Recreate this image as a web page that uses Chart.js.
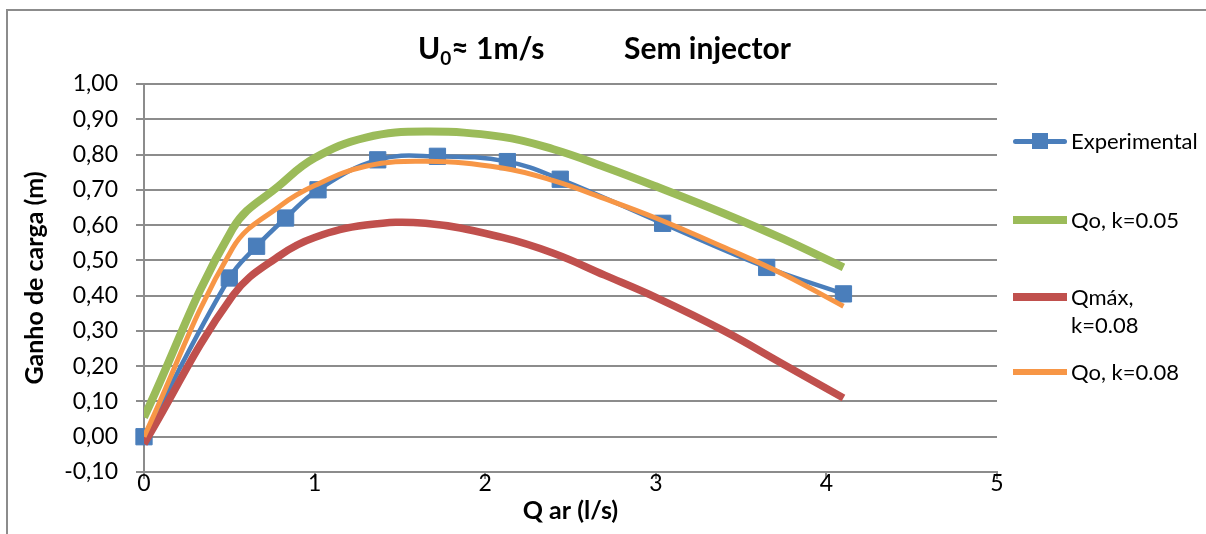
<!DOCTYPE html>
<html>
<head>
<meta charset="utf-8">
<script src="https://cdn.jsdelivr.net/npm/chart.js@4.4.0/dist/chart.umd.min.js"></script>
<style>
  html, body { margin: 0; padding: 0; background: #fff; }
  #wrap { position: relative; width: 1206px; height: 534px; overflow: hidden; background: #fff; }
  #frame { position: absolute; left: 6px; top: 9px; width: 1400px; height: 800px;
           border-left: 2px solid #8c8c8c; border-top: 2px solid #8c8c8c; }
  canvas { position: absolute; left: 0; top: 0; }
  .leg-text { position: absolute; font-family: Lato, sans-serif; font-size: 22px; line-height: 28px; color: #000; white-space: nowrap; }
  .leg-line { position: absolute; }
  .leg-mark { position: absolute; }
</style>
</head>
<body>
<div id="wrap">
  <div id="frame"></div>
  <canvas id="c" width="1206" height="534"></canvas>
  <div id="legend"></div>
</div>
<script>
// Measured head gain vs. air flow rate
const qExp = [0, 0.50, 0.66, 0.83, 1.02, 1.37, 1.72, 2.13, 2.44, 3.04, 3.65, 4.10];
const hExp = [0.00, 0.45, 0.54, 0.62, 0.70, 0.785, 0.795, 0.78, 0.73, 0.605, 0.48, 0.405];

// Model curves
const qModel = [0, 0.52, 0.80, 1.00, 1.30, 1.65, 2.10, 2.40, 2.70, 3.00, 3.40, 3.75, 4.10];
const hQo005 = [0.055, 0.59, 0.715, 0.79, 0.848, 0.865, 0.85, 0.815, 0.765, 0.71, 0.633, 0.56, 0.48];
const hQmax008 = [-0.02, 0.40, 0.515, 0.565, 0.60, 0.605, 0.565, 0.52, 0.458, 0.395, 0.30, 0.205, 0.11];
const hQo008 = [0.00, 0.535, 0.655, 0.712, 0.767, 0.781, 0.762, 0.726, 0.675, 0.62, 0.537, 0.46, 0.37];

const seriesNames = ['Experimental', 'Qo, k=0.05', 'Qmáx,\nk=0.08', 'Qo, k=0.08'];
const seriesColors = ['#4A7EBB', '#9BBB59', '#C0504D', '#F79646'];

const yTicks = [-0.1, 0, 0.1, 0.2, 0.3, 0.4, 0.5, 0.6, 0.7, 0.8, 0.9, 1.0];
const xTicks = [0, 1, 2, 3, 4, 5];

const FONT = 'Lato';
const GRID = '#8c8c8c';

const pts = (xs, ys) => xs.map((x, i) => ({ x: x, y: ys[i] }));

const titlePlugin = {
  id: 'headTitle',
  afterDraw(chart) {
    const ctx = chart.ctx;
    ctx.save();
    ctx.fillStyle = '#000';
    ctx.textBaseline = 'alphabetic';
    const base = 59;
    let x = 418;
    ctx.font = 'bold 30px ' + FONT;
    ctx.fillText('U', x, base);
    x += ctx.measureText('U').width;
    ctx.font = 'bold 19px ' + FONT;
    ctx.fillText('0', x, base + 6);
    x += ctx.measureText('0').width;
    ctx.font = 'bold 30px ' + FONT;
    ctx.fillText('\u2248 1m/s', x, base);
    ctx.fillText('Sem injector', 624, base);
    ctx.restore();
  }
};

const chart = new Chart(document.getElementById('c'), {
  type: 'line',
  data: {
    datasets: [
      {
        label: seriesNames[0], data: pts(qExp, hExp),
        borderColor: seriesColors[0], backgroundColor: seriesColors[0],
        borderWidth: 4.5, tension: 0.4,
        pointStyle: 'rect', pointRadius: 11.5, pointBorderWidth: 1,
        pointBackgroundColor: seriesColors[0], pointBorderColor: seriesColors[0],
        clip: false, order: 4
      },
      {
        label: seriesNames[1], data: pts(qModel, hQo005),
        borderColor: seriesColors[1], borderWidth: 8, tension: 0.4,
        pointRadius: 0, order: 3
      },
      {
        label: seriesNames[2], data: pts(qModel, hQmax008),
        borderColor: seriesColors[2], borderWidth: 7.5, tension: 0.4,
        pointRadius: 0, order: 2
      },
      {
        label: seriesNames[3], data: pts(qModel, hQo008),
        borderColor: seriesColors[3], borderWidth: 5, tension: 0.4,
        pointRadius: 0, order: 1
      }
    ]
  },
  options: {
    responsive: false,
    animation: false,
    devicePixelRatio: 1,
    layout: { padding: { top: 84, right: 209, left: 0, bottom: 0 } },
    plugins: { legend: { display: false }, title: { display: false }, tooltip: { enabled: false } },
    scales: {
      x: {
        type: 'linear', min: 0, max: 5,
        afterBuildTicks: s => { s.ticks = xTicks.map(v => ({ value: v })); },
        ticks: { color: '#000', font: { family: FONT, size: 23 }, padding: -9, maxRotation: 0,
                 callback: v => String(v) },
        grid: { display: true, drawOnChartArea: false, drawTicks: true, tickLength: 7, color: GRID, lineWidth: 2 },
        border: { display: true, color: GRID, width: 2 },
        title: { display: true, text: 'Q ar (l/s)', color: '#000',
                 font: { family: FONT, size: 25, weight: 'bold' }, padding: { top: 0, bottom: 8 } },
        afterFit: s => { s.height = 62; }
      },
      y: {
        type: 'linear', min: -0.1, max: 1.0,
        afterBuildTicks: s => { s.ticks = yTicks.map(v => ({ value: v })); },
        ticks: { color: '#000', font: { family: FONT, size: 23 }, padding: 18,
                 callback: v => (Math.abs(v) < 1e-9 ? 0 : v).toFixed(2).replace('.', ',') },
        grid: { color: GRID, lineWidth: 2, tickLength: 8, drawTicks: true },
        border: { display: true, color: GRID, width: 2 },
        title: { display: true, text: 'Ganho de carga (m)', color: '#000',
                 font: { family: FONT, size: 25, weight: 'bold' }, padding: { top: 20, bottom: 0 } },
        afterFit: s => { s.width = 144; }
      }
    }
  },
  plugins: [titlePlugin]
});

// Legend on the right
(function buildLegend() {
  const host = document.getElementById('legend');
  const rows = [141, 220, 297, 372];
  const widths = [5, 8, 8, 6];
  seriesNames.forEach((name, i) => {
    const yc = rows[i];
    const line = document.createElement('div');
    line.className = 'leg-line';
    line.style.left = '1013px';
    line.style.width = '54px';
    line.style.top = (yc - widths[i] / 2) + 'px';
    line.style.height = widths[i] + 'px';
    line.style.background = seriesColors[i];
    if (i === 0) line.style.borderRadius = '3px';
    host.appendChild(line);
    if (i === 0) {
      const m = document.createElement('div');
      m.className = 'leg-mark';
      m.style.left = '1032px'; m.style.top = (yc - 8) + 'px';
      m.style.width = '16px'; m.style.height = '16px';
      m.style.background = seriesColors[0];
      host.appendChild(m);
    }
    const t = document.createElement('div');
    t.className = 'leg-text';
    t.style.left = '1071px';
    t.style.top = (yc - 14) + 'px';
    t.innerHTML = name.split('\n').join('<br>');
    host.appendChild(t);
  });
})();
</script>
</body>
</html>
